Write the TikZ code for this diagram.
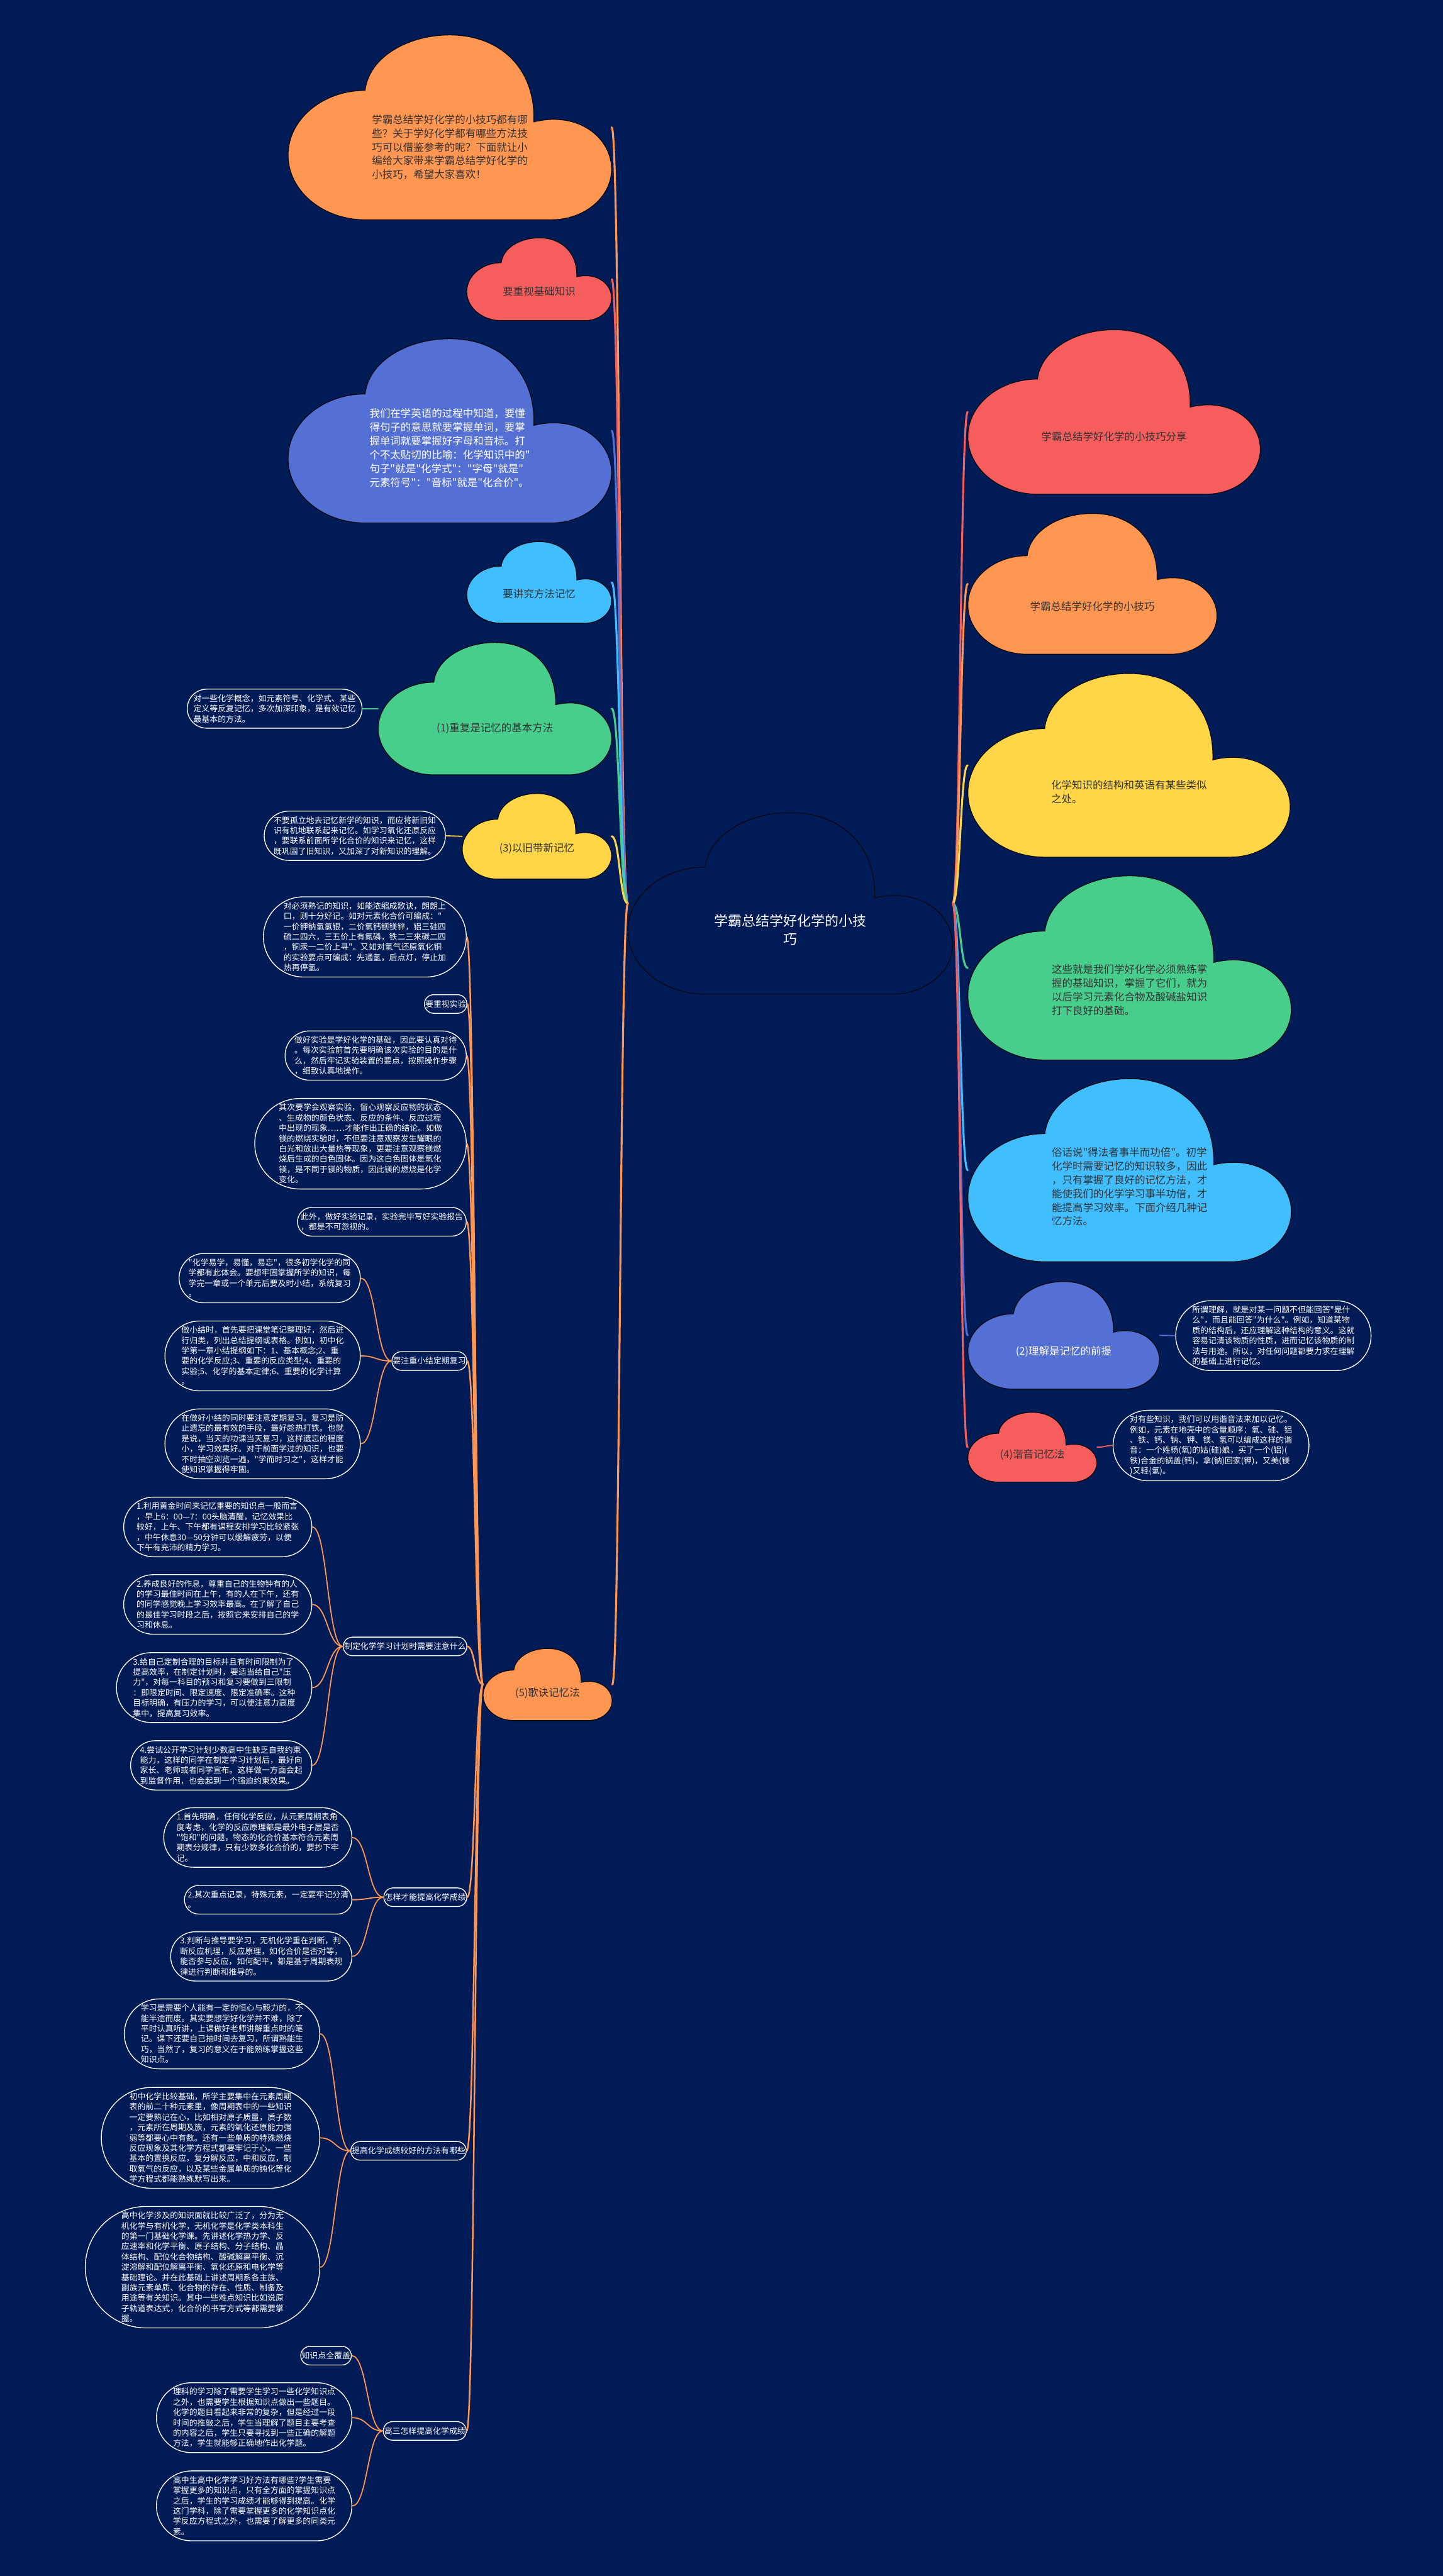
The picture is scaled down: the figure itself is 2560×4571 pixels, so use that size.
\documentclass[tikz,border=0pt]{standalone}
\usepackage{fontspec}
\usepackage{tikz}
\usetikzlibrary{shapes.misc, calc}
\newfontfamily\cjk{Noto Sans CJK SC}
\definecolor{bg}{RGB}{1,27,86}
\definecolor{cred}{RGB}{246,94,94}
\definecolor{corange}{RGB}{255,150,82}
\definecolor{cblue}{RGB}{85,112,212}
\definecolor{ccyan}{RGB}{64,190,255}
\definecolor{cgreen}{RGB}{72,206,140}
\definecolor{cyellow}{RGB}{255,214,72}
\definecolor{cloudink}{RGB}{51,51,51}
\definecolor{cloudedge}{RGB}{10,10,20}
\tikzset{
  cloudframe/.style={rectangle, draw=none, inner sep=0pt},
  cloudtext/.style={font=\cjk\fontsize{18.4}{24.4}\selectfont, text=cloudink,
    align=left, inner sep=0pt},
  cloudwhite/.style={cloudtext, text=white},
  roottext/.style={font=\cjk\fontsize{24.5}{32}\selectfont, text=white,
    align=center, inner sep=0pt},
  leafbox/.style={rounded rectangle, draw=white, line width=1.5pt, text=white,
    font=\cjk\fontsize{14.4}{18.3}\selectfont, align=left,
    inner xsep=0pt, inner ysep=9.3pt,
    execute at begin node={\rule{0pt}{12.7pt}},
    execute at end node={\rule[-1.7pt]{0pt}{1.7pt}}},
  mmcurve/.style={to path={let \p1=($(\tikztostart)!0.5!(\tikztotarget)$),
    \p2=(\tikztostart), \p3=(\tikztotarget) in
    .. controls (\x1,\y2) and (\x1,\y3) .. (\tikztotarget)}},
  rootlink/.style={line width=3.5pt, line cap=round},
  midlink/.style={line width=2.8pt, line cap=round, draw=corange},
  leaflink/.style={line width=2pt, line cap=round}
}
% cloud outline in a box: name, left, top, width, height, fill
\newcommand{\drawcloud}[6]{%
  \begin{scope}[shift={(#2,#3)}, xscale=#4, yscale=#5]
    \filldraw[fill=#6, draw=cloudedge, line width=1.5pt]
      (0.238,1) .. controls (0.107,1) and (0,0.843) .. (0,0.65)
      .. controls (0,0.457) and (0.107,0.3) .. (0.238,0.3)
      .. controls (0.25,0.12) and (0.37,0) .. (0.5,0)
      .. controls (0.65,0) and (0.765,0.17) .. (0.76,0.47)
      .. controls (0.9,0.41) and (1,0.56) .. (1,0.726)
      .. controls (1,0.877) and (0.917,1) .. (0.814,1) -- cycle;
    \node[cloudframe, minimum width=#4pt, minimum height=#5pt] (#1) at (0.5,0.5) {};
  \end{scope}}

\begin{document}
\begin{tikzpicture}[x=1pt, y=-1pt]
  \useasboundingbox (0,0) rectangle (2560,4571);
  \fill[bg] (0,0) rectangle (2560,4571);

  % central topic
  \drawcloud{root}{1114}{1442}{576}{322}{bg}
  \node[roottext] (root-t) at ($(root.north)!0.645!(root.south)$) {学霸总结学好化学的小技\\巧};

  % left clouds
  \drawcloud{intro}{511}{62}{574}{328}{corange}
  \node[cloudtext] (intro-t) at ($(intro.north)!0.607!(intro.south)$) {学霸总结学好化学的小技巧都有哪\\
些？关于学好化学都有哪些方法技\\
巧可以借鉴参考的呢？下面就让小\\
编给大家带来学霸总结学好化学的\\
小技巧，希望大家喜欢！};
  \drawcloud{basics}{828}{422}{257}{147}{cred}
  \node[cloudtext] (basics-t) at ($(basics.north)!0.646!(basics.south)$) {要重视基础知识};
  \drawcloud{english}{511}{601}{574}{327}{cblue}
  \node[cloudwhite] (english-t) at ($(english.north)!0.593!(english.south)$) {我们在学英语的过程中知道，要懂\\
得句子的意思就要掌握单词，要掌\\
握单词就要掌握好字母和音标。打\\
个不太贴切的比喻：化学知识中的"\\
句子"就是"化学式"："字母"就是"\\
元素符号"："音标"就是"化合价"。};
  \drawcloud{method}{828}{961}{257}{145}{ccyan}
  \node[cloudtext] (method-t) at ($(method.north)!0.64!(method.south)$) {要讲究方法记忆};
  \drawcloud{repeat}{671}{1140}{414}{235}{cgreen}
  \node[cloudtext] (repeat-t) at ($(repeat.north)!0.65!(repeat.south)$) {(1)重复是记忆的基本方法};
  \drawcloud{oldnew}{820}{1408}{265}{152}{cyellow}
  \node[cloudtext] (oldnew-t) at ($(oldnew.north)!0.645!(oldnew.south)$) {(3)以旧带新记忆};
  \drawcloud{rhyme}{857}{2925}{229}{128}{corange}
  \node[cloudtext] (rhyme-t) at ($(rhyme.north)!0.62!(rhyme.south)$) {(5)歌诀记忆法};

  % right clouds
  \drawcloud{share}{1717}{585}{519}{292}{cred}
  \node[cloudtext] (share-t) at ($(share.north)!0.65!(share.south)$) {学霸总结学好化学的小技巧分享};
  \drawcloud{tips}{1717}{911}{442}{250}{corange}
  \node[cloudtext] (tips-t) at ($(tips.north)!0.66!(tips.south)$) {学霸总结学好化学的小技巧};
  \drawcloud{similar}{1717}{1195}{572}{326}{cyellow}
  \node[cloudtext] (similar-t) at ($(similar.north)!0.644!(similar.south)$) {化学知识的结构和英语有某些类似\\
之处。};
  \drawcloud{found}{1717}{1554}{574}{327}{cgreen}
  \node[cloudtext] (found-t) at ($(found.north)!0.62!(found.south)$) {这些就是我们学好化学必须熟练掌\\
握的基础知识，掌握了它们，就为\\
以后学习元素化合物及酸碱盐知识\\
打下良好的基础。};
  \drawcloud{memory}{1717}{1914}{574}{325}{ccyan}
  \node[cloudtext] (memory-t) at ($(memory.north)!0.59!(memory.south)$) {俗话说"得法者事半而功倍"。初学\\
化学时需要记忆的知识较多，因此\\
，只有掌握了良好的记忆方法，才\\
能使我们的化学学习事半功倍，才\\
能提高学习效率。下面介绍几种记\\
忆方法。};
  \drawcloud{understand}{1717}{2274}{340}{191}{cblue}
  \node[cloudwhite] (understand-t) at ($(understand.north)!0.65!(understand.south)$) {(2)理解是记忆的前提};
  \drawcloud{homophone}{1717}{2506}{229}{124}{cred}
  \node[cloudtext] (homophone-t) at ($(homophone.north)!0.61!(homophone.south)$) {(4)谐音记忆法};

  % notes beside clouds
  \node[leafbox, anchor=east] (repeatnote) at (643,1257.5) {对一些化学概念，如元素符号、化学式、某些\\
定义等反复记忆，多次加深印象，是有效记忆\\
最基本的方法。};
  \node[leafbox, anchor=east] (oldnewnote) at (791,1483) {不要孤立地去记忆新学的知识，而应将新旧知\\
识有机地联系起来记忆。如学习氧化还原反应\\
，要联系前面所学化合价的知识来记忆，这样\\
既巩固了旧知识，又加深了对新知识的理解。};
  \node[leafbox, anchor=west] (understandnote) at (2085,2370) {所谓理解，就是对某一问题不但能回答"是什\\
么"，而且能回答"为什么"。例如，知道某物\\
质的结构后，还应理解这种结构的意义。这就\\
容易记清该物质的性质，进而记忆该物质的制\\
法与用途。所以，对任何问题都要力求在理解\\
的基础上进行记忆。};
  \node[leafbox, anchor=west] (homophonenote) at (1974,2565) {对有些知识，我们可以用谐音法来加以记忆。\\
例如，元素在地壳中的含量顺序：氧、硅、铝\\
、铁、钙、钠、钾、镁、氢可以编成这样的谐\\
音：一个姓杨(氧)的姑(硅)娘，买了一个(铝)(\\
铁)合金的锅盖(钙)，拿(钠)回家(钾)，又美(镁\\
)又轻(氢)。};

  % branches of (5)
  \node[leafbox, anchor=east] (rhymenote) at (828,1662.5) {对必须熟记的知识，如能浓缩成歌诀，朗朗上\\
口，则十分好记。如对元素化合价可编成："\\
一价钾钠氢氯银，二价氧钙钡镁锌，铝三硅四\\
硫二四六，三五价上有氮磷，铁二三来碳二四\\
，铜汞一二价上寻"。又如对氢气还原氧化铜\\
的实验要点可编成：先通氢，后点灯，停止加\\
热再停氢。};
  \node[leafbox, anchor=east] (lab) at (829,1781.5) {要重视实验};
  \node[leafbox, anchor=east] (labprep) at (828,1873) {做好实验是学好化学的基础，因此要认真对待\\
。每次实验前首先要明确该次实验的目的是什\\
么，然后牢记实验装置的要点，按照操作步骤\\
，细致认真地操作。};
  \node[leafbox, anchor=east] (labobserve) at (828,2029.5) {其次要学会观察实验，留心观察反应物的状态\\
、生成物的颜色状态、反应的条件、反应过程\\
中出现的现象……才能作出正确的结论。如做\\
镁的燃烧实验时，不但要注意观察发生耀眼的\\
白光和放出大量热等现象，更要注意观察镁燃\\
烧后生成的白色固体。因为这白色固体是氧化\\
镁，是不同于镁的物质，因此镁的燃烧是化学\\
变化。};
  \node[leafbox, anchor=east] (labrecord) at (828,2168) {此外，做好实验记录，实验完毕写好实验报告\\
，都是不可忽视的。};

  \node[leafbox, anchor=east] (review) at (829,2415) {要注重小结定期复习};
  \node[leafbox, anchor=east] (review1) at (640,2268) {"化学易学，易懂，易忘"，很多初学化学的同\\
学都有此体会。要想牢固掌握所学的知识，每\\
学完一章或一个单元后要及时小结，系统复习\\
。};
  \node[leafbox, anchor=east] (review2) at (640,2406) {做小结时，首先要把课堂笔记整理好，然后进\\
行归类，列出总结提纲或表格。例如，初中化\\
学第一章小结提纲如下：1、基本概念;2、重\\
要的化学反应;3、重要的反应类型;4、重要的\\
实验;5、化学的基本定律;6、重要的化学计算\\
。};
  \node[leafbox, anchor=east] (review3) at (640,2562) {在做好小结的同时要注意定期复习。复习是防\\
止遗忘的最有效的手段，最好趁热打铁。也就\\
是说，当天的功课当天复习，这样遗忘的程度\\
小，学习效果好。对于前面学过的知识，也要\\
不时抽空浏览一遍，"学而时习之"，这样才能\\
使知识掌握得牢固。};

  \node[leafbox, anchor=east] (plan) at (829,2921.5) {制定化学学习计划时需要注意什么};
  \node[leafbox, anchor=east] (plan1) at (554,2709.5) {1.利用黄金时间来记忆重要的知识点一般而言\\
，早上6：00—7：00头脑清醒，记忆效果比\\
较好，上午、下午都有课程安排学习比较紧张\\
，中午休息30—50分钟可以缓解疲劳，以便\\
下午有充沛的精力学习。};
  \node[leafbox, anchor=east] (plan2) at (554,2847) {2.养成良好的作息，尊重自己的生物钟有的人\\
的学习最佳时间在上午，有的人在下午，还有\\
的同学感觉晚上学习效率最高。在了解了自己\\
的最佳学习时段之后，按照它来安排自己的学\\
习和休息。};
  \node[leafbox, anchor=east] (plan3) at (554,2994.5) {3.给自己定制合理的目标并且有时间限制为了\\
提高效率，在制定计划时，要适当给自己"压\\
力"，对每一科目的预习和复习要做到三限制\\
：即限定时间、限定速度、限定准确率。这种\\
目标明确，有压力的学习，可以使注意力高度\\
集中，提高复习效率。};
  \node[leafbox, anchor=east] (plan4) at (554,3132.5) {4.尝试公开学习计划少数高中生缺乏自我约束\\
能力，这样的同学在制定学习计划后，最好向\\
家长、老师或者同学宣布。这样做一方面会起\\
到监督作用，也会起到一个强迫约束效果。};

  \node[leafbox, anchor=east] (score) at (829,3366.5) {怎样才能提高化学成绩};
  \node[leafbox, anchor=east] (score1) at (625,3260.5) {1.首先明确，任何化学反应，从元素周期表角\\
度考虑，化学的反应原理都是最外电子层是否\\
"饱和"的问题，物态的化合价基本符合元素周\\
期表分规律，只有少数多化合价的，要抄下牢\\
记。};
  \node[leafbox, anchor=east] (score2) at (625,3371) {2.其次重点记录，特殊元素，一定要牢记分清\\
。};
  \node[leafbox, anchor=east] (score3) at (625,3471.5) {3.判断与推导要学习，无机化学重在判断，判\\
断反应机理，反应原理，如化合价是否对等，\\
能否参与反应，如何配平，都是基于周期表规\\
律进行判断和推导的。};

  \node[leafbox, anchor=east] (way) at (828,3816.5) {提高化学成绩较好的方法有哪些};
  \node[leafbox, anchor=east] (way1) at (568,3609) {学习是需要个人能有一定的恒心与毅力的，不\\
能半途而废。其实要想学好化学并不难，除了\\
平时认真听讲，上课做好老师讲解重点时的笔\\
记。课下还要自己抽时间去复习，所谓熟能生\\
巧，当然了，复习的意义在于能熟练掌握这些\\
知识点。};
  \node[leafbox, anchor=east] (way2) at (568,3793.5) {初中化学比较基础，所学主要集中在元素周期\\
表的前二十种元素里，像周期表中的一些知识\\
一定要熟记在心，比如相对原子质量，质子数\\
，元素所在周期及族，元素的氧化还原能力强\\
弱等都要心中有数。还有一些单质的特殊燃烧\\
反应现象及其化学方程式都要牢记于心。一些\\
基本的置换反应，复分解反应，中和反应，制\\
取氧气的反应，以及某些金属单质的钝化等化\\
学方程式都能熟练默写出来。};
  \node[leafbox, anchor=east] (way3) at (568,4023) {高中化学涉及的知识面就比较广泛了，分为无\\
机化学与有机化学，无机化学是化学类本科生\\
的第一门基础化学课。先讲述化学热力学、反\\
应速率和化学平衡、原子结构、分子结构、晶\\
体结构、配位化合物结构、酸碱解离平衡、沉\\
淀溶解和配位解离平衡、氧化还原和电化学等\\
基础理论。并在此基础上讲述周期系各主族、\\
副族元素单质、化合物的存在、性质、制备及\\
用途等有关知识。其中一些难点知识比如说原\\
子轨道表达式，化合价的书写方式等都需要掌\\
握。};

  \node[leafbox, anchor=east] (senior) at (828,4313.5) {高三怎样提高化学成绩};
  \node[leafbox, anchor=east] (senior1) at (624,4180) {知识点全覆盖};
  \node[leafbox, anchor=east] (senior2) at (625,4290) {理科的学习除了需要学生学习一些化学知识点\\
之外，也需要学生根据知识点做出一些题目。\\
化学的题目看起来非常的复杂，但是经过一段\\
时间的推敲之后，学生当理解了题目主要考查\\
的内容之后，学生只要寻找到一些正确的解题\\
方法，学生就能够正确地作出化学题。};
  \node[leafbox, anchor=east] (senior3) at (625,4446.5) {高中生高中化学学习好方法有哪些?学生需要\\
掌握更多的知识点，只有全方面的掌握知识点\\
之后，学生的学习成绩才能够得到提高。化学\\
这门学科，除了需要掌握更多的化学知识点化\\
学反应方程式之外，也需要了解更多的同类元\\
素。};

  % links from the central topic
  \foreach \nm/\col in {intro/corange, basics/cred, english/cblue, method/ccyan,
      repeat/cgreen, oldnew/cyellow, rhyme/corange}
    \draw[rootlink, draw=\col] (root.west) to[mmcurve] (\nm.east);
  \foreach \nm/\col in {share/cred, tips/corange, similar/cyellow, found/cgreen,
      memory/ccyan, understand/cblue, homophone/cred}
    \draw[rootlink, draw=\col] (root.east) to[mmcurve] (\nm.west);
  % notes
  \draw[leaflink, draw=cgreen] (repeat.west) to[mmcurve] (repeatnote.east);
  \draw[leaflink, draw=cyellow] (oldnew.west) to[mmcurve] (oldnewnote.east);
  \draw[leaflink, draw=cblue] (understand.east) to[mmcurve] (understandnote.west);
  \draw[leaflink, draw=cred] (homophone.east) to[mmcurve] (homophonenote.west);
  % (5) and its sub-branches
  \foreach \nm in {rhymenote, lab, labprep, labobserve, labrecord, review, plan, score, way, senior}
    \draw[midlink] (rhyme.west) to[mmcurve] (\nm.east);
  \foreach \nm in {review1, review2, review3}
    \draw[leaflink, draw=corange] (review.west) to[mmcurve] (\nm.east);
  \foreach \nm in {plan1, plan2, plan3, plan4}
    \draw[leaflink, draw=corange] (plan.west) to[mmcurve] (\nm.east);
  \foreach \nm in {score1, score2, score3}
    \draw[leaflink, draw=corange] (score.west) to[mmcurve] (\nm.east);
  \foreach \nm in {way1, way2, way3}
    \draw[leaflink, draw=corange] (way.west) to[mmcurve] (\nm.east);
  \foreach \nm in {senior1, senior2, senior3}
    \draw[leaflink, draw=corange] (senior.west) to[mmcurve] (\nm.east);
\end{tikzpicture}
\end{document}
